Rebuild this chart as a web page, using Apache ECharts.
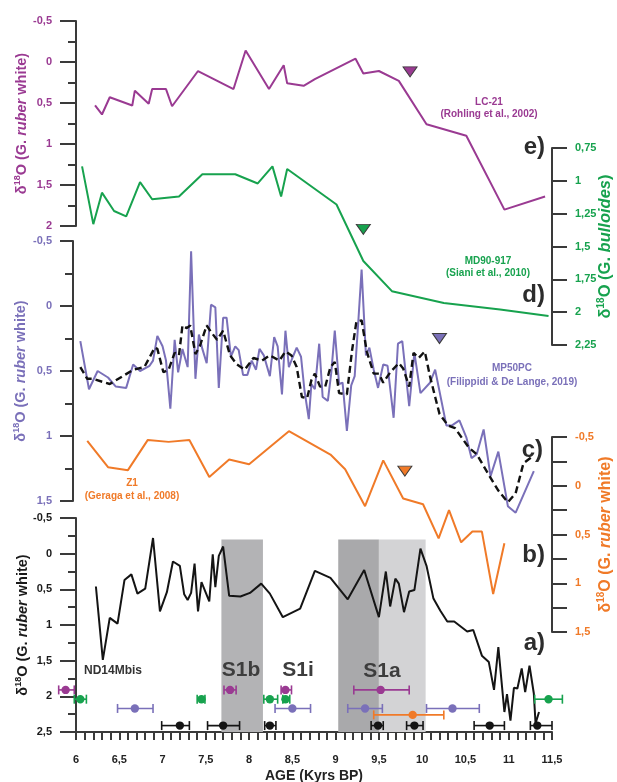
<!DOCTYPE html>
<html>
<head>
<meta charset="utf-8">
<script src="https://cdn.jsdelivr.net/npm/echarts@6/dist/echarts.min.js"></script>
<style>
  html, body { margin: 0; padding: 0; background: #fff; }
  #chart { width: 617px; height: 782px; }
</style>
</head>
<body>
<div id="chart"></div>
<script>
// ---- LC-21 (Rohling et al., 2002), G. ruber white ----
const lc21Age = [6.22, 6.30, 6.39, 6.65, 6.68, 6.84, 6.88, 7.04, 7.11, 7.41, 7.82, 7.96, 8.23, 8.40, 8.44, 8.63, 8.76, 9.23, 9.32, 9.50, 9.73, 10.05, 10.51, 10.95, 11.42];
const lc21D18O = [0.53, 0.64, 0.43, 0.53, 0.35, 0.51, 0.33, 0.33, 0.54, 0.11, 0.33, -0.14, 0.33, 0.04, 0.26, 0.29, 0.21, -0.04, 0.14, 0.11, 0.23, 0.76, 0.90, 1.80, 1.64];

// ---- MD90-917 (Siani et al., 2010), G. bulloides ----
const md90Age = [6.07, 6.20, 6.30, 6.44, 6.58, 6.74, 6.88, 7.19, 7.46, 7.84, 8.10, 8.27, 8.37, 8.44, 9.01, 9.32, 9.65, 10.25, 10.90, 11.46];
const md90D18O = [0.89, 1.33, 1.09, 1.23, 1.27, 1.01, 1.14, 1.12, 0.95, 0.95, 1.02, 0.89, 1.12, 0.91, 1.18, 1.61, 1.84, 1.93, 1.98, 2.03];

// ---- MP50PC (Filippidi & De Lange, 2019), G. ruber white ----
const mp50Age = [6.05, 6.15, 6.25, 6.37, 6.46, 6.58, 6.66, 6.74, 6.85, 6.89, 6.94, 7.00, 7.04, 7.09, 7.14, 7.18, 7.23, 7.29, 7.33, 7.38,
  7.42, 7.46, 7.51, 7.56, 7.61, 7.65, 7.70, 7.74, 7.79, 7.84, 7.88, 7.93, 7.98, 8.03, 8.08, 8.12, 8.17, 8.24, 8.29, 8.33,
  8.38, 8.42, 8.46, 8.50, 8.55, 8.60, 8.64, 8.69, 8.72, 8.76, 8.81, 8.85, 8.91, 8.95, 8.99, 9.04, 9.08, 9.13, 9.18, 9.22,
  9.26, 9.30, 9.35, 9.39, 9.44, 9.49, 9.55, 9.60, 9.67, 9.72, 9.77, 9.85, 9.91, 9.98, 10.09, 10.15, 10.28, 10.34, 10.43, 10.51,
  10.57, 10.63, 10.71, 10.79, 10.88, 10.99, 11.08, 11.29];
const mp50D18O = [0.27, 0.64, 0.50, 0.55, 0.62, 0.63, 0.45, 0.50, 0.46, 0.42, 0.23, 0.31, 0.42, 0.79, 0.26, 0.51, 0.33, 0.47, -0.42, 0.56,
  0.22, 0.33, 0.44, -0.01, 0.01, 0.63, 0.09, 0.09, 0.39, 0.31, 0.34, 0.53, 0.53, 0.42, 0.49, 0.33, 0.38, 0.54, 0.24, 0.31,
  0.68, 0.19, 0.47, 0.40, 0.32, 0.39, 0.65, 0.87, 0.60, 0.64, 0.29, 0.70, 0.73, 0.51, 0.19, 0.60, 0.59, 0.96, 0.61, 0.54,
  0.14, -0.28, 0.38, 0.32, 0.49, 0.63, 0.45, 0.46, 0.86, 0.29, 0.27, 0.77, 0.36, 0.67, 0.59, 0.49, 0.92, 0.92, 0.88, 1.01,
  1.17, 1.14, 0.95, 1.31, 1.12, 1.54, 1.59, 1.27];

// MP50PC smoothed record (dashed)
const mp50SmoothAge = [6.05, 6.13, 6.19, 6.39, 6.54, 6.66, 6.79, 6.91, 6.94, 7.01, 7.07, 7.14, 7.19, 7.23, 7.28, 7.32, 7.38, 7.43, 7.51, 7.56,
  7.63, 7.70, 7.78, 7.86, 7.95, 8.05, 8.15, 8.24, 8.35, 8.42, 8.49, 8.55, 8.61, 8.67, 8.72, 8.76, 8.82, 8.88, 8.94, 8.99,
  9.04, 9.13, 9.19, 9.24, 9.30, 9.36, 9.44, 9.50, 9.55, 9.63, 9.73, 9.78, 9.85, 9.90, 9.96, 10.03, 10.09, 10.15, 10.20, 10.30,
  10.38, 10.54, 10.63, 10.77, 10.88, 10.99, 11.08, 11.17, 11.27];
const mp50SmoothD18O = [0.47, 0.56, 0.56, 0.60, 0.54, 0.49, 0.47, 0.32, 0.33, 0.51, 0.49, 0.36, 0.38, 0.15, 0.17, 0.15, 0.37, 0.31, 0.15, 0.20,
  0.26, 0.19, 0.38, 0.45, 0.49, 0.40, 0.42, 0.38, 0.42, 0.35, 0.38, 0.47, 0.70, 0.71, 0.57, 0.52, 0.62, 0.62, 0.47, 0.43,
  0.67, 0.68, 0.34, 0.12, 0.11, 0.35, 0.52, 0.52, 0.59, 0.51, 0.44, 0.48, 0.62, 0.36, 0.40, 0.35, 0.54, 0.70, 0.83, 0.92,
  0.94, 1.09, 1.14, 1.30, 1.42, 1.51, 1.44, 1.21, 1.16];

// ---- Z1 (Geraga et al., 2008), G. ruber white ----
const z1Age = [6.13, 6.37, 6.60, 6.83, 7.07, 7.31, 7.54, 7.77, 8.00, 8.46, 8.94, 9.11, 9.34, 9.55, 9.78, 10.01, 10.19, 10.31, 10.45, 10.58, 10.69, 10.82, 10.95];
const z1D18O = [-0.46, -0.19, -0.16, -0.47, -0.45, -0.47, -0.09, -0.27, -0.22, -0.56, -0.32, -0.17, 0.21, -0.26, 0.13, 0.19, 0.54, 0.25, 0.58, 0.47, 0.47, 1.11, 0.59];

// ---- ND14Mbis, G. ruber white ----
const ndAge = [6.23, 6.31, 6.39, 6.48, 6.56, 6.64, 6.71, 6.80, 6.89, 6.97, 7.05, 7.12, 7.20, 7.25, 7.29, 7.33, 7.37, 7.41, 7.45, 7.54,
  7.58, 7.61, 7.65, 7.70, 7.77, 7.90, 8.01, 8.14, 8.24, 8.39, 8.59, 8.76, 8.94, 9.14, 9.33, 9.50, 9.58, 9.63, 9.69, 9.73,
  9.79, 9.85, 9.91, 9.98, 10.05, 10.13, 10.21, 10.29, 10.37, 10.52, 10.59, 10.69, 10.77, 10.83, 10.88, 10.95, 10.98, 11.02, 11.06, 11.10,
  11.15, 11.19, 11.24, 11.29, 11.31, 11.35];
const ndD18O = [0.46, 1.49, 0.90, 0.98, 0.37, 0.29, 0.56, 0.49, -0.22, 0.81, 0.54, 0.11, 0.17, 0.57, 0.65, 0.55, 0.14, 0.81, 0.40, 0.67,
  0.01, 0.47, 0.03, -0.10, 0.59, 0.60, 0.55, 0.42, 0.56, 0.89, 0.77, 0.24, 0.34, 0.64, 0.23, 0.89, 0.25, 0.74, 0.35, 0.42,
  0.82, 0.53, 0.51, -0.07, 0.17, 0.63, 0.80, 0.95, 0.95, 1.09, 1.07, 1.43, 1.52, 1.91, 1.31, 2.22, 1.97, 2.34, 1.88, 1.89,
  1.61, 1.94, 1.57, 1.96, 2.38, 2.22];

// Sapropel S1 intervals (kyr BP)
const s1b = [7.68, 8.16];
const s1aDark = [9.03, 9.50];
const s1aLight = [9.50, 10.04];

// Onset of the deglacial-to-Holocene shift in each record [age, d18O]
const onsetLC21 = [9.86, 0.12];
const onsetMD90 = [9.32, 1.37];
const onsetMP50 = [10.20, 0.25];
const onsetZ1 = [9.80, -0.15];

// Radiocarbon ages: [age, lower, upper]
const datesLC21 = [[5.88, 5.80, 5.98], [7.78, 7.71, 7.85], [8.42, 8.37, 8.49], [9.52, 9.21, 9.85]];
const datesMD90 = [[6.05, 5.98, 6.12], [7.45, 7.40, 7.49], [8.24, 8.17, 8.33], [8.42, 8.39, 8.47], [11.46, 11.30, 11.62]];
const datesMP50 = [[6.68, 6.48, 6.89], [8.50, 8.30, 8.71], [9.34, 9.14, 9.54], [10.35, 10.05, 10.66]];
const datesZ1 = [[9.89, 9.44, 10.25]];
const datesND = [[7.20, 6.99, 7.31], [7.70, 7.52, 7.89], [8.24, 8.18, 8.31], [9.49, 9.41, 9.55], [9.91, 9.82, 10.01], [10.78, 10.60, 10.95], [11.33, 11.25, 11.50]];

// ---- styling ----
const FONT = '"Liberation Sans", Arial, sans-serif';
const PURPLE = '#9a3a92';
const GREEN = '#17a24e';
const SLATE = '#7a70b9';
const ORANGE = '#f07a28';
const BLACK = '#141414';
const AXIS = '#3a3a3a';

const zip = (a, b) => a.map((v, i) => [v, b[i]]);
const fmt = v => String(v).replace('.', ',');

function isoName(species, tail, color, size) {
  const lh = size + 3;
  return {
    text: '{t|δ}{s|18}{t|O (G. }{i|' + species + '}{t|' + tail + ')}',
    rich: {
      t: { fontFamily: FONT, fontWeight: 'bold', fontSize: size, color: color, lineHeight: lh },
      s: { fontFamily: FONT, fontWeight: 'bold', fontSize: Math.round(size * 0.6), color: color, verticalAlign: 'top', lineHeight: lh },
      i: { fontFamily: FONT, fontWeight: 'bold', fontStyle: 'italic', fontSize: size, color: color, lineHeight: lh }
    }
  };
}

function yAxis(opt) {
  const n = isoName(opt.species, opt.tail, opt.color, opt.nameSize);
  return {
    gridIndex: opt.grid,
    type: 'value',
    inverse: true,
    position: opt.position,
    offset: opt.offset || 0,
    min: opt.min, max: opt.max, interval: opt.interval,
    axisLine: { show: true, onZero: false, lineStyle: { color: AXIS, width: 2 } },
    axisTick: { show: true, length: opt.tickLen, lineStyle: { color: AXIS, width: 2 } },
    minorTick: { show: !!opt.minor, splitNumber: 2, length: opt.minorLen || 8, lineStyle: { color: AXIS, width: 2 } },
    splitLine: { show: false },
    minorSplitLine: { show: false },
    axisLabel: {
      color: opt.color, fontFamily: FONT, fontWeight: 'bold', fontSize: 11,
      margin: opt.labelMargin, formatter: fmt, showMinLabel: true, showMaxLabel: true
    },
    name: n.text,
    nameLocation: 'middle',
    nameRotate: 90,
    nameGap: opt.nameGap,
    nameMoveOverlap: false,
    nameTextStyle: { rich: n.rich, color: opt.color }
  };
}

function xAxis(grid, show) {
  return {
    gridIndex: grid,
    type: 'value',
    min: 6, max: 11.5, interval: 0.5,
    show: show,
    axisLine: { show: show, onZero: false, lineStyle: { color: AXIS, width: 2 } },
    axisTick: { show: show, length: 8, lineStyle: { color: AXIS, width: 2 } },
    minorTick: { show: show, splitNumber: 5, length: 8, lineStyle: { color: AXIS, width: 2 } },
    splitLine: { show: false },
    minorSplitLine: { show: false },
    axisLabel: { show: show, color: '#222', fontFamily: FONT, fontWeight: 'bold', fontSize: 11, margin: 22, formatter: fmt },
    name: show ? 'AGE (Kyrs BP)' : '',
    nameLocation: 'middle',
    nameGap: 37,
    nameMoveOverlap: false,
    nameTextStyle: { color: '#222', fontFamily: FONT, fontWeight: 'bold', fontSize: 14 }
  };
}

function line(grid, data, color, extra) {
  return Object.assign({
    type: 'line', xAxisIndex: grid, yAxisIndex: grid,
    data: data, symbol: 'none', clip: false, silent: true,
    lineStyle: { color: color, width: 2 }, z: 3
  }, extra || {});
}

function onset(grid, point, color) {
  return {
    type: 'scatter', xAxisIndex: grid, yAxisIndex: grid, silent: true, z: 6,
    data: [point],
    symbol: 'path://M0,0L12,0L6,9Z', symbolSize: [14, 10],
    itemStyle: { color: color, borderColor: '#3c3c3c', borderWidth: 1, opacity: 1 }
  };
}

function dateBars(color, level, rows) {
  return {
    type: 'custom', xAxisIndex: 4, yAxisIndex: 4, z: 5, silent: true, clip: false,
    data: rows.map(r => [r[0], level, r[1], r[2]]),
    renderItem(params, api) {
      const y = api.value(1);
      const c = api.coord([api.value(0), y]);
      const a = api.coord([api.value(2), y]);
      const b = api.coord([api.value(3), y]);
      const st = { stroke: color, lineWidth: 1.6 };
      return {
        type: 'group',
        children: [
          { type: 'line', shape: { x1: a[0], y1: a[1], x2: b[0], y2: b[1] }, style: st },
          { type: 'line', shape: { x1: a[0], y1: a[1] - 4.5, x2: a[0], y2: a[1] + 4.5 }, style: st },
          { type: 'line', shape: { x1: b[0], y1: b[1] - 4.5, x2: b[0], y2: b[1] + 4.5 }, style: st },
          { type: 'circle', shape: { cx: c[0], cy: c[1], r: 4.2 }, style: { fill: color } }
        ]
      };
    }
  };
}

function txt(x, y, text, color, size, align) {
  return {
    type: 'text', x: x, y: y, silent: true, z: 10,
    style: {
      text: text, fill: color, font: 'bold ' + size + 'px ' + FONT,
      textAlign: align || 'center', textVerticalAlign: 'middle'
    }
  };
}

const gridBase = { left: 76, right: 65, outerBoundsMode: 'none', containLabel: false };

const option = {
  animation: false,
  backgroundColor: '#ffffff',
  grid: [
    Object.assign({ top: 21, height: 205 }, gridBase),
    Object.assign({ top: 148, height: 197 }, gridBase),
    Object.assign({ top: 241, height: 260 }, gridBase),
    Object.assign({ top: 437, height: 195 }, gridBase),
    Object.assign({ top: 518, height: 214 }, gridBase)
  ],
  xAxis: [xAxis(0, false), xAxis(1, false), xAxis(2, false), xAxis(3, false), xAxis(4, true)],
  yAxis: [
    yAxis({ grid: 0, position: 'left', min: -0.5, max: 2, interval: 0.5, color: PURPLE, species: 'ruber', tail: ' white',
      tickLen: 16, minor: true, labelMargin: 24, nameGap: 45, nameSize: 14.5 }),
    yAxis({ grid: 1, position: 'right', min: 0.75, max: 2.25, interval: 0.25, color: GREEN, species: 'bulloides', tail: '',
      tickLen: 15, minor: false, labelMargin: 23, nameGap: 44, nameSize: 16.5 }),
    yAxis({ grid: 2, position: 'left', offset: 3, min: -0.5, max: 1.5, interval: 0.5, color: SLATE, species: 'ruber', tail: ' white',
      tickLen: 13, minor: true, labelMargin: 21, nameGap: 43, nameSize: 14.5 }),
    yAxis({ grid: 3, position: 'right', min: -0.5, max: 1.5, interval: 0.5, color: ORANGE, species: 'ruber', tail: ' white',
      tickLen: 15, minor: true, minorLen: 15, labelMargin: 23, nameGap: 44, nameSize: 16 }),
    yAxis({ grid: 4, position: 'left', min: -0.5, max: 2.5, interval: 0.5, color: '#1a1a1a', species: 'ruber', tail: ' white',
      tickLen: 16, minor: true, labelMargin: 24, nameGap: 44, nameSize: 14.5 })
  ],
  series: [
    line(4, zip(ndAge, ndD18O), BLACK, {
      markArea: {
        silent: true,
        data: [
          [{ xAxis: s1b[0], yAxis: -0.2, itemStyle: { color: '#b3b3b5' } }, { xAxis: s1b[1], yAxis: 2.5 }],
          [{ xAxis: s1aDark[0], yAxis: -0.2, itemStyle: { color: '#a9a9ab' } }, { xAxis: s1aDark[1], yAxis: 2.5 }],
          [{ xAxis: s1aLight[0], yAxis: -0.2, itemStyle: { color: '#d3d3d5' } }, { xAxis: s1aLight[1], yAxis: 2.5 }]
        ]
      }
    }),
    line(0, zip(lc21Age, lc21D18O), PURPLE),
    line(1, zip(md90Age, md90D18O), GREEN),
    line(2, zip(mp50Age, mp50D18O), SLATE),
    line(2, zip(mp50SmoothAge, mp50SmoothD18O), '#111', { lineStyle: { color: '#111', width: 2.4, type: [7, 4] }, z: 4 }),
    line(3, zip(z1Age, z1D18O), ORANGE),
    onset(0, onsetLC21, PURPLE),
    onset(1, onsetMD90, GREEN),
    onset(2, onsetMP50, SLATE),
    onset(3, onsetZ1, ORANGE),
    dateBars(PURPLE, 1.91, datesLC21),
    dateBars(GREEN, 2.04, datesMD90),
    dateBars(SLATE, 2.17, datesMP50),
    dateBars(ORANGE, 2.26, datesZ1),
    dateBars(BLACK, 2.41, datesND)
  ],
  graphic: [
    txt(489, 102, 'LC-21', PURPLE, 10),
    txt(489, 114, '(Rohling et al., 2002)', PURPLE, 10),
    txt(488, 261, 'MD90-917', GREEN, 10),
    txt(488, 273, '(Siani et al., 2010)', GREEN, 10),
    txt(512, 368, 'MP50PC', SLATE, 10),
    txt(512, 382, '(Filippidi & De Lange, 2019)', SLATE, 10),
    txt(132, 483, 'Z1', ORANGE, 10),
    txt(132, 496, '(Geraga et al., 2008)', ORANGE, 10),
    txt(545, 147, 'e)', '#2c2c2c', 24, 'right'),
    txt(545, 295, 'd)', '#2c2c2c', 24, 'right'),
    txt(543, 450, 'c)', '#2c2c2c', 24, 'right'),
    txt(545, 555, 'b)', '#2c2c2c', 24, 'right'),
    txt(545, 643, 'a)', '#2c2c2c', 24, 'right'),
    txt(241, 670, 'S1b', '#3d3d3d', 21),
    txt(298, 670, 'S1i', '#3d3d3d', 21),
    txt(382, 671, 'S1a', '#3d3d3d', 21),
    txt(113, 671, 'ND14Mbis', '#333333', 12)
  ]
};

const chart = echarts.init(document.getElementById('chart'), null, { renderer: 'canvas' });
chart.setOption(option);
</script>
</body>
</html>
